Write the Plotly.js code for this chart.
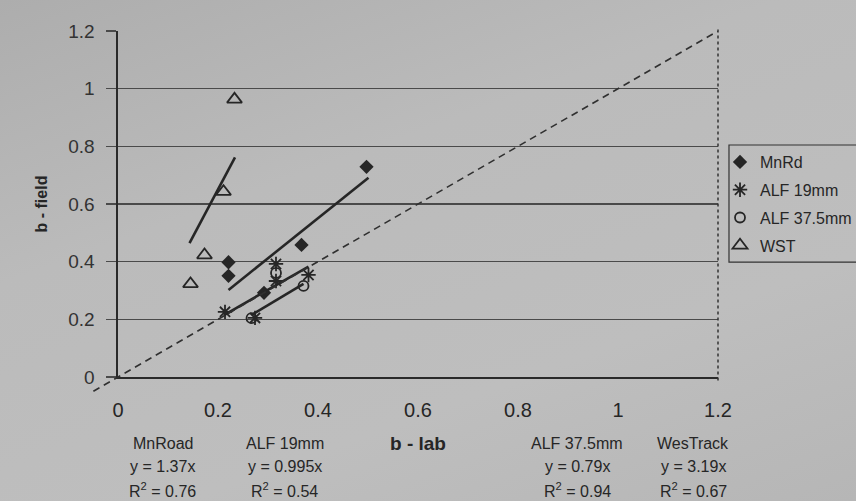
<!DOCTYPE html>
<html>
<head>
<meta charset="utf-8">
<script src="https://cdn.plot.ly/plotly-3.0.1.min.js"></script>
<style>
  html, body { margin: 0; padding: 0; }
  body { width: 856px; height: 501px; overflow: hidden;
         background: linear-gradient(160deg, #adadad 0%, #bbbbbb 35%, #bebebe 70%, #b6b6b6 100%); }
  #chart { width: 856px; height: 501px; }
</style>
</head>
<body>
<div id="chart"></div>
<script>
// ---- data ----
const mnrdX = [0.221, 0.221, 0.292, 0.367, 0.497];
const mnrdY = [0.398, 0.351, 0.292, 0.458, 0.729];
const alf19X = [0.214, 0.274, 0.316, 0.316, 0.381];
const alf19Y = [0.226, 0.205, 0.392, 0.333, 0.354];
const alf375X = [0.267, 0.316, 0.371];
const alf375Y = [0.204, 0.361, 0.316];
const wstX = [0.145, 0.173, 0.211, 0.233];
const wstY = [0.323, 0.423, 0.643, 0.963];

// trend line end points (as drawn)
const mnrdTrendX = [0.221, 0.501];
const mnrdTrendY = [0.302, 0.691];
const alf19TrendX = [0.212, 0.381];
const alf19TrendY = [0.215, 0.383];
const alf375TrendX = [0.267, 0.371];
const alf375TrendY = [0.215, 0.323];
const wstTrendX = [0.143, 0.234];
const wstTrendY = [0.464, 0.762];

// line of equality
const equalX = [-0.07, 1.2];
const equalY = [-0.07, 1.2];

// equation labels
const eqNames = ['MnRoad', 'ALF 19mm', 'ALF 37.5mm', 'WesTrack'];
const eqSlopes = ['1.37', '0.995', '0.79', '3.19'];
const eqR2 = ['0.76', '0.54', '0.94', '0.67'];

const seriesNames = ['MnRd', 'ALF 19mm', 'ALF 37.5mm', 'WST'];
const tickVals = [0, 0.2, 0.4, 0.6, 0.8, 1, 1.2];
const tickText = ['0', '0.2', '0.4', '0.6', '0.8', '1', '1.2'];

// ---- styling ----
const ink = '#262626';
const narrow = '"Liberation Sans Narrow", "Arial Narrow", "Liberation Sans", Arial, sans-serif';
const sans = '"Liberation Sans", Arial, sans-serif';

function trend(x, y) {
  return { x: x, y: y, type: 'scatter', mode: 'lines', showlegend: false,
           line: { color: ink, width: 2.6 }, hoverinfo: 'skip', xaxis: 'x', yaxis: 'y' };
}

const traces = [
  { x: equalX, y: equalY, type: 'scatter', mode: 'lines', showlegend: false,
    line: { color: '#303030', width: 1.6, dash: '7px,5px' }, xaxis: 'x2', yaxis: 'y2', hoverinfo: 'skip' },
  trend(mnrdTrendX, mnrdTrendY),
  trend(alf19TrendX, alf19TrendY),
  trend(alf375TrendX, alf375TrendY),
  trend(wstTrendX, wstTrendY),
  { x: mnrdX, y: mnrdY, name: seriesNames[0], legendgroup: 'a', type: 'scatter', mode: 'markers',
    marker: { symbol: 'diamond', size: 11, color: ink, line: { width: 0 } }, xaxis: 'x', yaxis: 'y' },
  { x: alf19X, y: alf19Y, name: seriesNames[1], legendgroup: 'b', type: 'scatter', mode: 'markers',
    marker: { symbol: 'asterisk-open', size: 12, color: ink, line: { width: 1.8, color: ink } }, xaxis: 'x', yaxis: 'y' },
  { x: alf375X, y: alf375Y, name: seriesNames[2], legendgroup: 'c', type: 'scatter', mode: 'markers',
    marker: { symbol: 'circle-open', size: 10, color: ink, line: { width: 1.8, color: ink } }, xaxis: 'x', yaxis: 'y' },
  { x: wstX, y: wstY, name: seriesNames[3], legendgroup: 'd', type: 'scatter', mode: 'markers',
    marker: { symbol: 'triangle-up-open', size: 13, color: ink, line: { width: 1.8, color: ink } }, xaxis: 'x', yaxis: 'y' }
];

// equation annotations
const eqPos = [0.1162, 0.3105, 0.7755, 0.9602];
const annotations = [];
eqNames.forEach((n, i) => {
  const base = { xref: 'paper', yref: 'paper', x: eqPos[i], showarrow: false,
                 xanchor: 'center', yanchor: 'middle', font: { family: narrow, size: 16, color: ink } };
  annotations.push(Object.assign({}, base, { y: -0.1288, text: n }));
  annotations.push(Object.assign({}, base, { y: -0.1918, text: 'y = ' + eqSlopes[i] + 'x' }));
  annotations.push(Object.assign({}, base, { y: -0.2575, text: 'R<sup>2</sup> = ' + eqR2[i] }));
});

const layout = {
  width: 856, height: 501,
  margin: { l: 90, r: 138, t: 31, b: 105, pad: 0, autoexpand: false },
  paper_bgcolor: 'rgba(0,0,0,0)',
  plot_bgcolor: 'rgba(0,0,0,0)',
  showlegend: true,
  xaxis: {
    domain: [0.04459, 1], range: [0, 1.2], anchor: 'y',
    tickvals: tickVals, ticktext: tickText,
    showgrid: false, zeroline: false,
    showline: true, linecolor: '#2a2a2a', linewidth: 1.6,
    ticks: '', ticklabelstandoff: 14,
    tickfont: { family: narrow, size: 20, color: ink },
    title: { text: '<b>b - lab</b>', font: { family: sans, size: 19, color: ink }, standoff: 17 }
  },
  yaxis: {
    domain: [0.05205, 1], range: [0, 1.2], anchor: 'x',
    tickvals: tickVals, ticktext: tickText,
    showgrid: true, gridcolor: '#4a4a4a', gridwidth: 1.4,
    zeroline: false,
    showline: true, linecolor: '#2a2a2a', linewidth: 1.6,
    ticks: 'outside', ticklen: 10, tickcolor: '#4a4a4a', tickwidth: 1.4,
    ticklabelstandoff: 8,
    tickfont: { family: sans, size: 19, color: '#333' },
    title: { text: '<b>b - field</b>', font: { family: sans, size: 16, color: ink }, standoff: 16 }
  },
  xaxis2: { domain: [0, 1], range: [-0.056, 1.2], anchor: 'y2', visible: false, fixedrange: true },
  yaxis2: { domain: [0, 1], range: [-0.0659, 1.2], anchor: 'x2', visible: false, fixedrange: true },
  legend: {
    x: 1.0032, xanchor: 'left', y: 0.6877, yanchor: 'top',
    bgcolor: 'rgba(0,0,0,0)', borderwidth: 0,
    font: { family: sans, size: 16, color: ink },
    itemwidth: 30, traceorder: 'grouped', tracegroupgap: 4
  },
  shapes: [
    { type: 'line', xref: 'x domain', yref: 'y domain', x0: 1, x1: 1, y0: -0.01, y1: 1.01,
      line: { color: '#333', width: 1.5, dash: 'dot' } },
    { type: 'rect', xref: 'paper', yref: 'paper', x0: 1.0175, x1: 1.3, y0: 0.367, y1: 0.6877,
      line: { color: '#333', width: 1.2 }, fillcolor: 'rgba(0,0,0,0)' }
  ],
  annotations: annotations
};

Plotly.newPlot('chart', traces, layout, { displayModeBar: false, staticPlot: true });
</script>
</body>
</html>
